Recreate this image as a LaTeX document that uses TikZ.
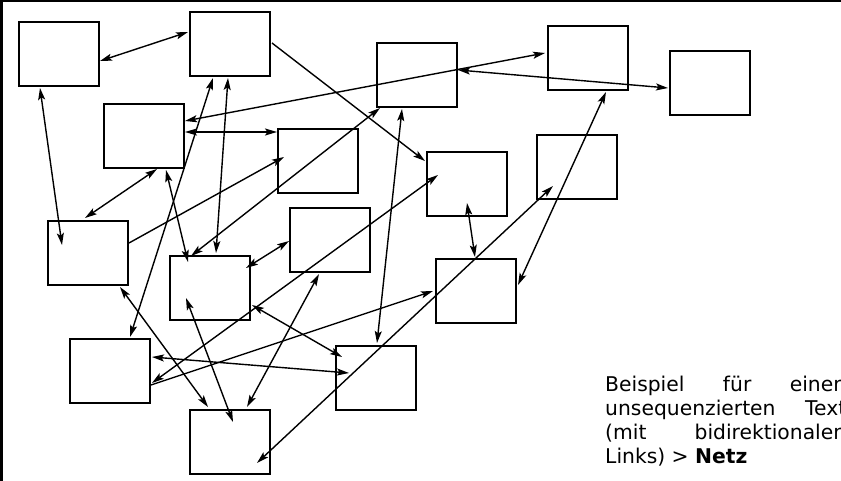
\documentclass[tikz,border=0pt]{standalone}
\usepackage{fontspec}
\newfontfamily\dejavu{DejaVu Sans}
\usetikzlibrary{calc,arrows.meta}
\tikzset{
  seite/.style={draw=black,line width=1.9pt,minimum width=80pt,minimum height=64pt,inner sep=0pt},
  bidi/.style={line width=1.4pt,{Stealth[length=12pt,width=7pt,inset=2.5pt]}-{Stealth[length=12pt,width=7pt,inset=2.5pt]}},
  uni/.style={line width=1.4pt,-{Stealth[length=12pt,width=7pt,inset=2.5pt]}}
}
\hbadness=10000
\begin{document}
\begin{tikzpicture}[x=1pt,y=-1pt]
        \useasboundingbox (0,0) rectangle (841,481);
        \clip (0,0) rectangle (841,481);
        \fill[white] (0,0) rectangle (841,481);
        \fill[black] (0,0) rectangle (3,481);
        \fill[black] (0,0) rectangle (841,2);
        \node[seite] (0) at (59,54){};
        \node[seite] (1) at (230,44){};
        \node[seite] (2) at (144,136){};
        \node[seite] (3) at (318,161){};
        \node[seite] (4) at (417,75){};
        \node[seite] (5) at (588,58){};
        \node[seite] (6) at (710,83){};
        \node[seite] (7) at (467,184){};
        \node[seite] (8) at (577,167){};
        \node[seite] (9) at (330,240){};
        \node[seite] (10) at (88,253){};
        \node[seite] (11) at (210,288){};
        \node[seite] (12) at (110,371){};
        \node[seite] (13) at (376,378){};
        \node[seite] (14) at (230,442){};
        \node[seite] (15) at (476,291){};
        \draw[bidi] ($(0)+(41,7)$) -- ($(1)+(-42,-12)$);
        \draw[bidi] ($(0)+(-19,34)$) -- ($(10)+(-26,-8)$);
        \draw[uni] ($(1)+(42,-1)$) -- ($(7)+(-42,-23)$);
        \draw[bidi] ($(1)+(-17,34)$) -- ($(12)+(20,-34)$);
        \draw[bidi] ($(1)+(-2,34)$) -- ($(11)+(6,-35)$);
        \draw[bidi] ($(2)+(41,-15)$) -- ($(5)+(-43,-5)$);
        \draw[bidi] ($(4)+(41,-5)$) -- ($(6)+(-42,5)$);
        \draw[bidi] ($(2)+(41,-4)$) -- ($(3)+(-41,-29)$);
        \draw[bidi] ($(2)+(13,33)$) -- ($(10)+(-3,-35)$);
        \draw[bidi] ($(2)+(22,34)$) -- ($(11)+(-22,-26)$);
        \draw[uni] ($(10)+(41,-10)$) -- ($(3)+(-34,-4)$);
        \draw[bidi] ($(4)+(-37,33)$) -- ($(11)+(-19,-32)$);
        \draw[bidi] ($(4)+(-15,34)$) -- ($(13)+(1,-35)$);
        \draw[bidi] ($(7)+(0,19)$) -- ($(15)+(-1,-34)$);
        \draw[bidi] ($(12)+(42,12)$) -- ($(7)+(-29,-9)$);
        \draw[uni] ($(12)+(41,14)$) -- ($(15)+(-43,0)$);
        \draw[bidi] ($(11)+(42,17)$) -- ($(13)+(-34,-21)$);
        \draw[bidi] ($(11)+(36,-20)$) -- ($(9)+(-41,1)$);
        \draw[bidi] ($(11)+(-24,10)$) -- ($(14)+(3,-20)$);
        \draw[bidi] ($(10)+(32,34)$) -- ($(14)+(-22,-35)$);
        \draw[bidi] ($(9)+(-11,34)$) -- ($(14)+(17,-35)$);
        \draw[bidi] ($(12)+(42,-14)$) -- ($(13)+(-27,-5)$);
        \draw[bidi] ($(14)+(27,21)$) -- ($(8)+(-24,19)$);
        \draw[bidi] ($(5)+(18,34)$) -- ($(15)+(42,-6)$);
        \node[anchor=north west,inner sep=0pt,text width=241pt,align=justify,font=\dejavu\fontsize{20.3}{24}\selectfont] (beispiel) at (605,376) {Beispiel für einen\linebreak unsequenzierten Text\linebreak (mit bidirektionalen\linebreak Links) > \textbf{Netz}};
        \end{tikzpicture}
\end{document}
